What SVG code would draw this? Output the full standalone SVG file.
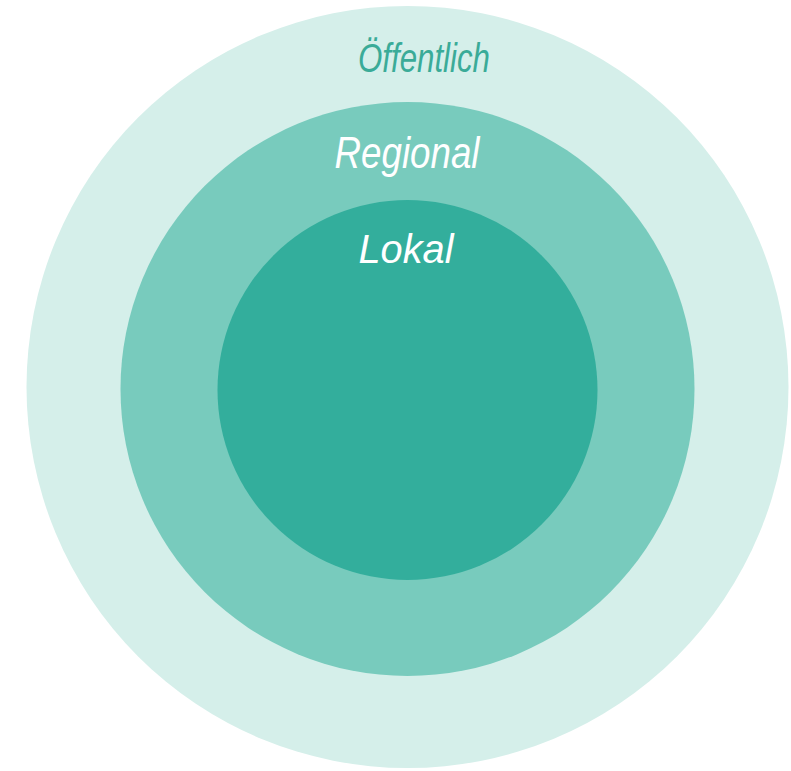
<svg xmlns="http://www.w3.org/2000/svg" width="791" height="771" viewBox="0 0 791 771">
<style>
.lbl{font-family:"Liberation Sans","DejaVu Sans",sans-serif;font-style:italic;text-anchor:middle}
</style>
<rect width="791" height="771" fill="#ffffff"/>
<g id="oeffentlich">
<circle cx="407.5" cy="387" r="381" fill="#d5efea"/>
<text class="lbl" x="424" y="72" font-size="40" fill="#3aab98" textLength="132" lengthAdjust="spacingAndGlyphs">Öffentlich</text>
</g>
<g id="regional">
<circle cx="407.5" cy="389" r="287" fill="#78cbbd"/>
<text class="lbl" x="407" y="168" font-size="44" fill="#ffffff" textLength="145" lengthAdjust="spacingAndGlyphs">Regional</text>
</g>
<g id="lokal">
<circle cx="407.5" cy="390" r="190" fill="#33ae9c"/>
<text class="lbl" x="406" y="263" font-size="40" fill="#ffffff" textLength="95" lengthAdjust="spacingAndGlyphs">Lokal</text>
</g>
<g id="connectors"/>
</svg>
